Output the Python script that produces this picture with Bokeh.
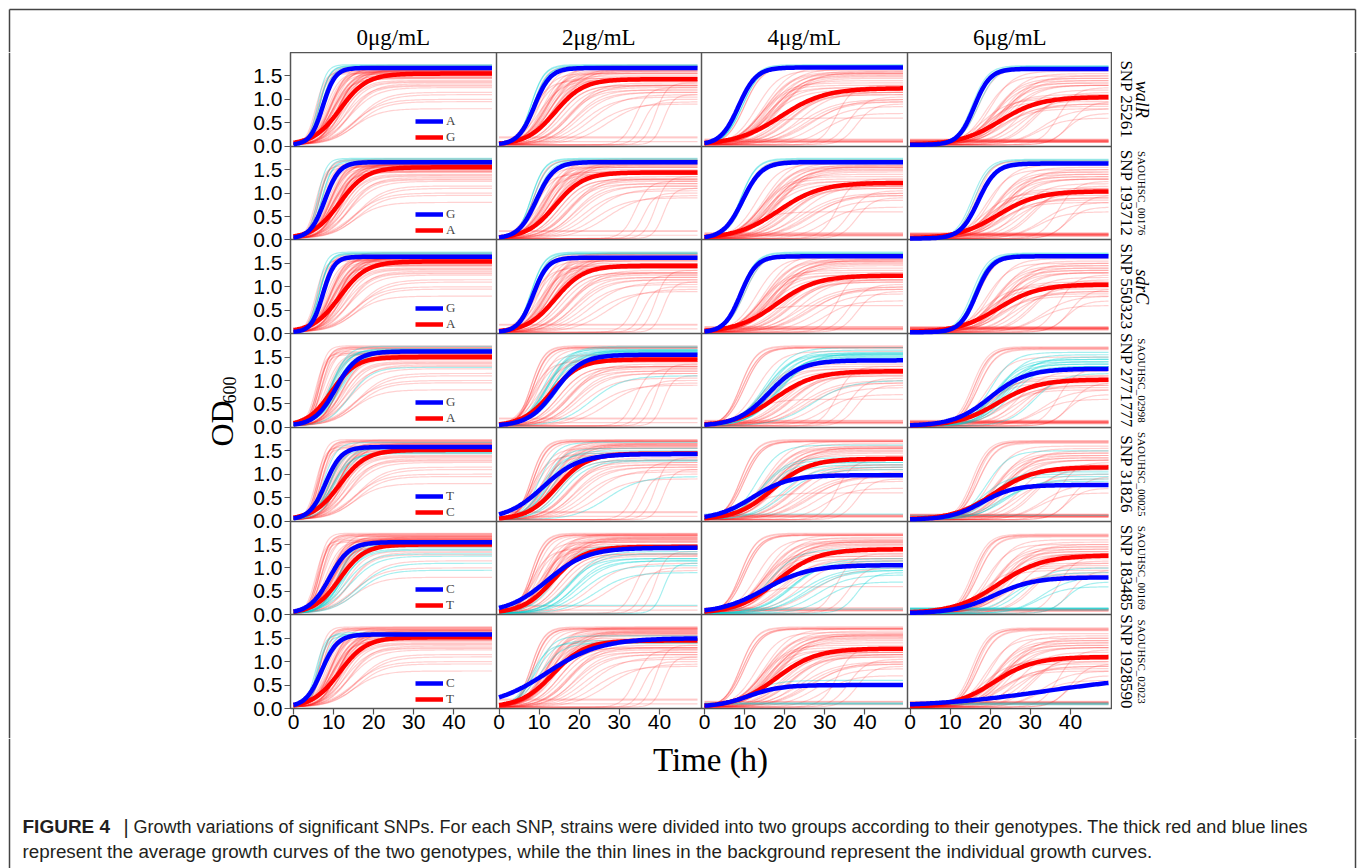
import numpy as np
from bokeh.plotting import figure
from bokeh.layouts import column, row
from bokeh.models import Range1d, FixedTicker, CustomJSTickFormatter, Legend, LegendItem
from bokeh.core.properties import value
from bokeh.embed import file_html
from bokeh.resources import INLINE

# ---------------- data ----------------
CONCENTRATIONS = ["0μg/mL", "2μg/mL", "4μg/mL", "6μg/mL"]
SNP_LABELS = ["SNP 25261", "SNP 193712", "SNP 550323", "SNP 2771777",
              "SNP 31826", "SNP 183485", "SNP 1928590"]
GENE_LABELS = ["walR", "SAOUHSC_00176", "sdrC", "SAOUHSC_02998",
               "SAOUHSC_00025", "SAOUHSC_00169", "SAOUHSC_02023"]
GENE_ITALIC = [True, False, True, False, False, False, False]
BLUE_ALLELE = ["A", "G", "G", "G", "T", "C", "C"]
RED_ALLELE = ["G", "A", "A", "A", "C", "T", "T"]
Y_TICKS = [0.0, 0.5, 1.0, 1.5]
X_TICKS = [0, 10, 20, 30, 40]

# average growth curves (logistic: plateau, midpoint time, rate) per SNP row x concentration
BLUE_MAX = [[1.67, 1.67, 1.68, 1.65], [1.66, 1.66, 1.66, 1.63], [1.64, 1.62, 1.65, 1.65],
            [1.62, 1.55, 1.43, 1.25], [1.58, 1.43, 0.98, 0.77], [1.55, 1.43, 1.06, 0.80],
            [1.58, 1.50, 0.50, 0.72]]
BLUE_MID = [[7.3, 8.8, 8.5, 16.0], [7.8, 9.3, 9.5, 17.0], [7.3, 8.5, 9.0, 16.5],
            [10.5, 14.0, 16.0, 20.0], [8.0, 11.0, 12.0, 18.0], [9.0, 12.0, 15.0, 21.0],
            [7.0, 12.0, 11.0, 34.0]]
BLUE_RATE = [[0.65, 0.50, 0.45, 0.50], [0.55, 0.45, 0.42, 0.45], [0.70, 0.55, 0.50, 0.50],
             [0.38, 0.30, 0.25, 0.22], [0.50, 0.22, 0.22, 0.25], [0.40, 0.20, 0.18, 0.20],
             [0.50, 0.15, 0.25, 0.07]]
RED_MAX = [[1.55, 1.43, 1.24, 1.05], [1.55, 1.44, 1.22, 1.04], [1.54, 1.45, 1.24, 1.05],
           [1.50, 1.45, 1.20, 1.02], [1.52, 1.44, 1.33, 1.15], [1.50, 1.45, 1.40, 1.27],
           [1.52, 1.45, 1.28, 1.10]]
RED_MID = [[11.6, 14.0, 19.0, 22.5], [11.5, 14.0, 18.5, 22.0], [11.5, 14.0, 18.0, 22.0],
           [9.5, 13.0, 17.5, 22.0], [11.5, 14.5, 17.0, 21.0], [11.5, 13.5, 18.0, 22.0],
           [11.5, 13.5, 18.0, 21.0]]
RED_RATE = [[0.30, 0.28, 0.18, 0.20], [0.30, 0.28, 0.19, 0.20], [0.30, 0.28, 0.20, 0.20],
            [0.33, 0.28, 0.20, 0.20], [0.30, 0.27, 0.22, 0.20], [0.32, 0.26, 0.20, 0.18],
            [0.30, 0.25, 0.20, 0.20]]

# individual strain curves (plateau, midpoint, rate) for each concentration
MAX_0UG = [1.72, 1.55, 1.64, 1.38, 1.70, 1.47, 1.60, 1.25, 1.68, 1.52,
           1.66, 1.62, 1.58, 1.10, 1.68, 1.50, 1.62, 1.33, 1.74, 1.45,
           1.57, 1.58, 1.65, 1.40, 1.71, 1.53, 1.60, 1.63, 1.36, 1.59,
           1.48, 0.80, 1.67, 1.28, 1.56, 1.44, 1.61, 1.15, 1.73, 1.51,
           1.00, 1.66, 1.55, 1.54, 1.69, 1.30, 1.60, 1.46, 1.62, 0.95]
MID_0UG = [6.5, 10, 9, 12, 7, 11, 10, 14, 7.5, 12,
           9.5, 6, 8, 16, 10, 11, 11.5, 14, 6, 12,
           9, 5.5, 10.5, 12.5, 6.5, 11, 7, 11, 13, 8.5,
           12, 15, 7, 14, 11, 9.5, 10, 16, 9.5, 11,
           15, 12, 6, 9, 6.5, 13, 11, 10, 9, 16]
RATE_0UG = [0.80, 0.45, 0.50, 0.35, 0.75, 0.45, 0.40, 0.30, 0.60, 0.40,
            0.45, 0.80, 0.55, 0.28, 0.45, 0.50, 0.35, 0.35, 0.90, 0.42,
            0.55, 0.85, 0.40, 0.40, 0.80, 0.48, 0.70, 0.38, 0.38, 0.52,
            0.44, 0.30, 0.75, 0.36, 0.50, 0.42, 0.42, 0.30, 0.50, 0.46,
            0.28, 0.34, 0.80, 0.50, 0.80, 0.33, 0.40, 0.44, 0.45, 0.30]

MAX_2UG = [1.72, 1.40, 1.66, 1.20, 1.70, 1.30, 1.62, 0.20, 1.68, 1.35,
           1.64, 1.55, 1.55, 0.90, 1.70, 1.25, 1.60, 1.00, 1.74, 1.15,
           1.50, 1.45, 1.66, 1.05, 1.71, 1.30, 1.40, 1.60, 1.25, 1.45,
           1.30, 0.10, 1.69, 1.10, 1.48, 0.95, 1.58, 1.35, 1.73, 1.20,
           0.18, 1.64, 1.40, 1.40, 1.70, 1.15, 1.56, 1.28, 1.62, 1.10]
MID_2UG = [8, 13, 11, 19, 8.5, 15, 13, -30, 10, 18,
           12, 9, 11, 24, 12, 17, 14, 36, 8, 19,
           12, 9, 14, 21, 8.5, 15, 10, 13, 34, 11,
           18, -30, 9, 23, 14, 27, 13, 39, 12, 17,
           -30, 15, 8, 12, 8.5, 20, 14, 16, 12, 41]
RATE_2UG = [0.60, 0.35, 0.40, 0.30, 0.55, 0.32, 0.35, 0.50, 0.45, 0.30,
            0.38, 0.45, 0.40, 0.25, 0.35, 0.30, 0.30, 0.70, 0.60, 0.28,
            0.38, 0.40, 0.30, 0.26, 0.55, 0.32, 0.35, 0.34, 0.60, 0.40,
            0.28, 0.50, 0.50, 0.25, 0.32, 0.24, 0.33, 0.70, 0.35, 0.30,
            0.50, 0.30, 0.45, 0.36, 0.60, 0.27, 0.30, 0.30, 0.36, 0.80]

MAX_4UG = [1.72, 1.20, 1.55, 1.00, 1.70, 1.10, 1.50, 0.12, 1.62, 1.20,
           1.58, 0.60, 1.35, 0.70, 1.65, 1.15, 1.48, 0.10, 1.74, 0.95,
           1.25, 0.10, 1.60, 0.85, 1.71, 1.20, 0.12, 1.55, 1.05, 1.30,
           1.15, 0.08, 1.69, 1.00, 1.40, 0.15, 1.52, 1.30, 1.70, 1.10,
           0.14, 1.58, 0.10, 1.25, 1.70, 0.95, 1.45, 1.15, 1.55, 0.90]
MID_4UG = [9, 16, 15, 24, 9.5, 20, 17, -30, 13, 22,
           15, 11, 14, 30, 16, 24, 18, -30, 9, 26,
           15, -30, 17, 28, 9.5, 20, -30, 18, 36, 14,
           22, -30, 10, 27, 16, -30, 17, 33, 15, 21,
           -30, 19, -30, 16, 10, 25, 18, 19, 16, 38]
RATE_4UG = [0.50, 0.25, 0.30, 0.22, 0.45, 0.25, 0.28, 0.50, 0.35, 0.25,
            0.30, 0.30, 0.30, 0.30, 0.28, 0.25, 0.28, 0.50, 0.50, 0.22,
            0.30, 0.50, 0.27, 0.25, 0.45, 0.26, 0.50, 0.28, 0.45, 0.30,
            0.25, 0.50, 0.45, 0.22, 0.28, 0.50, 0.27, 0.50, 0.30, 0.25,
            0.50, 0.26, 0.50, 0.28, 0.45, 0.24, 0.27, 0.26, 0.28, 0.50]

MAX_6UG = [1.70, 0.90, 1.35, 0.13, 1.68, 0.80, 1.30, 0.10, 1.50, 0.15,
           1.40, 0.12, 1.00, 0.60, 1.55, 1.10, 1.30, 0.10, 1.72, 0.12,
           0.95, 0.10, 1.45, 0.80, 1.70, 1.20, 0.08, 1.40, 0.95, 1.05,
           1.00, 0.08, 1.66, 1.15, 0.14, 0.12, 1.35, 1.25, 1.60, 0.90,
           0.11, 1.50, 0.10, 1.10, 1.68, 0.13, 1.30, 0.85, 1.45, 0.70]
MID_6UG = [16, 24, 21, -30, 17, 22, 22, -30, 19, -30,
           21, -30, 18, 32, 22, 30, 24, -30, 15.5, -30,
           19, -30, 23, 33, 16.5, 27, -30, 24, 40, 20,
           28, -30, 17, 31, -30, -30, 23, 37, 20, 26,
           -30, 24, -30, 21, 16, -30, 25, 23, 21, 39]
RATE_6UG = [0.50, 0.25, 0.28, 0.50, 0.45, 0.25, 0.27, 0.50, 0.35, 0.50,
            0.30, 0.50, 0.30, 0.30, 0.30, 0.30, 0.28, 0.50, 0.50, 0.50,
            0.30, 0.50, 0.30, 0.28, 0.50, 0.30, 0.50, 0.30, 0.45, 0.30,
            0.28, 0.50, 0.45, 0.30, 0.50, 0.50, 0.30, 0.45, 0.35, 0.26,
            0.50, 0.28, 0.50, 0.30, 0.50, 0.50, 0.28, 0.28, 0.30, 0.45]

# strains carrying the "blue" genotype for each SNP (others carry the "red" genotype)
MINOR_STRAINS = [
    [0, 4, 18, 24],
    [0, 4, 18, 32],
    [0, 18, 24, 44],
    [2, 6, 10, 14, 16, 22, 27, 33, 36, 38, 41, 46, 48],
    [1, 5, 8, 12, 20, 29, 35, 43, 47],
    [3, 7, 9, 13, 19, 23, 30, 34, 39, 45, 49],
    [11, 21, 26, 42],
]

STRAIN_MAX = [MAX_0UG, MAX_2UG, MAX_4UG, MAX_6UG]
STRAIN_MID = [MID_0UG, MID_2UG, MID_4UG, MID_6UG]
STRAIN_RATE = [RATE_0UG, RATE_2UG, RATE_4UG, RATE_6UG]

# ---------------- layout constants (page pixels) ----------------
SERIF = "Liberation Serif"
SANS = "Liberation Sans"
PAGE_L, PAGE_R = 0, 1358
PAGE_T, PAGE_B = 0, 868
W = PAGE_R - PAGE_L
HEADER_H = 52
LEFT_W = 250
AXIS_W = 40
GRID_W = 822
GRID_H = 656
XAXIS_H = 30
RIGHT_W = W - LEFT_W - AXIS_W - GRID_W
MID_H = GRID_H + XAXIS_H
BOTTOM_H = (PAGE_B - PAGE_T) - HEADER_H - MID_H
GRID_X0 = PAGE_L + LEFT_W + AXIS_W        # page x of panel grid left
GRID_Y0 = PAGE_T + HEADER_H               # page y of panel grid top
NROW, NCOL = 7, 4
COL_W = GRID_W / NCOL
ROW_H = GRID_H / NROW
X_SRC = (-0.75, 50.5)
Y_SRC = (0.0, 2.0)
FRAME_COLOR = "#444444"
FRAME_X0, FRAME_X1, FRAME_Y0 = 9, 1355, 9

T = np.linspace(0.0, 49.5, 110)


def growth(a, m, r):
    return 0.03 + (a - 0.03) / (1.0 + np.exp(-r * (T - m)))


def deco_fig(width, height, x0, x1, y0, y1):
    f = figure(width=width, height=height, x_range=Range1d(x0, x1), y_range=Range1d(y1, y0),
               x_axis_type=None, y_axis_type=None, min_border=0, toolbar_location=None,
               output_backend="svg", outline_line_color=None, frame_align=False)
    f.background_fill_color = "white"
    f.border_fill_color = "white"
    return f


# ---------------- header ----------------
hdr = deco_fig(W, HEADER_H, PAGE_L, PAGE_R, PAGE_T, PAGE_T + HEADER_H)
hdr.segment(x0=[FRAME_X0, FRAME_X0, FRAME_X1], y0=[FRAME_Y0, FRAME_Y0, FRAME_Y0],
            x1=[FRAME_X1, FRAME_X0, FRAME_X1], y1=[FRAME_Y0, PAGE_T + HEADER_H, PAGE_T + HEADER_H],
            line_color=FRAME_COLOR, line_width=1.5)
hdr.text(x=[GRID_X0 + COL_W * (c + 0.5) for c in range(NCOL)], y=[36.5] * NCOL,
         text=CONCENTRATIONS, text_align="center", text_baseline="middle",
         text_font=value(SERIF), text_font_size=value("23px"), text_color="black")

# ---------------- left (y label) ----------------
lft = deco_fig(LEFT_W, MID_H, PAGE_L, PAGE_L + LEFT_W, GRID_Y0, GRID_Y0 + MID_H)
lft.segment(x0=[FRAME_X0], y0=[GRID_Y0], x1=[FRAME_X0], y1=[GRID_Y0 + MID_H],
            line_color=FRAME_COLOR, line_width=1.5)
lft.text(x=[221], y=[446], text=["OD"], angle=np.pi / 2, text_align="left",
         text_baseline="middle", text_font=value(SERIF), text_font_size=value("32px"),
         text_color="black")
lft.text(x=[229], y=[403], text=["600"], angle=np.pi / 2, text_align="left",
         text_baseline="middle", text_font=value(SERIF), text_font_size=value("18px"),
         text_color="black")

# ---------------- panel grid ----------------
grid = figure(width=AXIS_W + GRID_W, height=MID_H, x_range=Range1d(0, NCOL), y_range=Range1d(0, NROW),
              min_border_left=AXIS_W, min_border_bottom=XAXIS_H, min_border_top=0, min_border_right=0,
              toolbar_location=None, output_backend="svg", frame_align=False)
grid.background_fill_color = "white"
grid.border_fill_color = "white"
grid.outline_line_color = "#555555"
grid.outline_line_width = 1.5
grid.xgrid.ticker = FixedTicker(ticks=list(range(1, NCOL)))
grid.ygrid.ticker = FixedTicker(ticks=list(range(1, NROW)))
grid.grid.grid_line_color = "#555555"
grid.grid.grid_line_width = 1.5
grid.grid.grid_line_alpha = 1.0

xspan = X_SRC[1] - X_SRC[0]
yspan = Y_SRC[1] - Y_SRC[0]
grid.xaxis.ticker = FixedTicker(ticks=[c + (t - X_SRC[0]) / xspan for c in range(NCOL) for t in X_TICKS])
grid.yaxis.ticker = FixedTicker(ticks=[(NROW - 1 - r) + (v - Y_SRC[0]) / yspan
                                       for r in range(NROW) for v in Y_TICKS])
grid.xaxis.formatter = CustomJSTickFormatter(
    args=dict(span=xspan, x0=X_SRC[0]),
    code="const f = tick - Math.floor(tick + 1e-9); return String(Math.round(f * span + x0));")
grid.yaxis.formatter = CustomJSTickFormatter(
    args=dict(span=yspan, y0=Y_SRC[0]),
    code="const f = tick - Math.floor(tick + 1e-9); return (f * span + y0).toFixed(1);")
for ax in (grid.xaxis, grid.yaxis):
    ax.axis_line_color = None
    ax.major_tick_line_color = "#555555"
    ax.major_tick_line_width = 1.2
    ax.major_tick_out = 6
    ax.major_tick_in = 0
    ax.minor_tick_line_color = None
    ax.major_label_text_font = SANS
    ax.major_label_text_font_size = "21px"
    ax.major_label_text_color = "black"
grid.xaxis.major_label_standoff = 0
grid.yaxis.major_label_standoff = 2

for r in range(NROW):
    minor = set(MINOR_STRAINS[r])
    for c in range(NCOL):
        sub = grid.subplot(x_source=Range1d(*X_SRC), y_source=Range1d(*Y_SRC),
                           x_target=Range1d(c, c + 1), y_target=Range1d(NROW - 1 - r, NROW - r))
        red_ys, cyan_ys = [], []
        for i in range(len(STRAIN_MAX[c])):
            yv = growth(STRAIN_MAX[c][i], STRAIN_MID[c][i], STRAIN_RATE[c][i])
            (cyan_ys if i in minor else red_ys).append(yv)
        sub.multi_line(xs=[T] * len(red_ys), ys=red_ys, line_color="#ff1a1a", line_alpha=0.2, line_width=1.2)
        sub.multi_line(xs=[T] * len(cyan_ys), ys=cyan_ys, line_color="#00d0d0", line_alpha=0.35, line_width=1.2)
        rr = sub.line(T, growth(RED_MAX[r][c], RED_MID[r][c], RED_RATE[r][c]),
                      line_color="#ff0000", line_width=4.5)
        br = sub.line(T, growth(BLUE_MAX[r][c], BLUE_MID[r][c], BLUE_RATE[r][c]),
                      line_color="#0000ff", line_width=4.5)
        if c == 0:
            leg = Legend(items=[LegendItem(label=BLUE_ALLELE[r], renderers=[br]),
                                LegendItem(label=RED_ALLELE[r], renderers=[rr])],
                         location=(125, (NROW - 1 - r) * ROW_H + 1),
                         glyph_width=28, glyph_height=16, label_height=16, label_standoff=3,
                         spacing=0, padding=0, margin=0,
                         label_text_font=SERIF, label_text_font_size="13px",
                         border_line_alpha=0, background_fill_alpha=0)
            grid.add_layout(leg)

# ---------------- right (row strips) ----------------
rgt = deco_fig(RIGHT_W, MID_H, PAGE_R - RIGHT_W, PAGE_R, GRID_Y0, GRID_Y0 + MID_H)
rgt.segment(x0=[FRAME_X1], y0=[GRID_Y0], x1=[FRAME_X1], y1=[GRID_Y0 + MID_H],
            line_color=FRAME_COLOR, line_width=1.5)
row_cy = [GRID_Y0 + ROW_H * (r + 0.5) for r in range(NROW)]
rgt.text(x=[GRID_X0 + GRID_W + 14] * NROW, y=row_cy, text=SNP_LABELS, angle=-np.pi / 2,
         text_align="center", text_baseline="middle", text_font=value(SERIF),
         text_font_size=value("17px"), text_color="black")
it_idx = [r for r in range(NROW) if GENE_ITALIC[r]]
sm_idx = [r for r in range(NROW) if not GENE_ITALIC[r]]
rgt.text(x=[GRID_X0 + GRID_W + 29] * len(it_idx), y=[row_cy[r] for r in it_idx],
         text=[GENE_LABELS[r] for r in it_idx], angle=-np.pi / 2,
         text_align="center", text_baseline="middle", text_font=value(SERIF),
         text_font_style="italic", text_font_size=value("18px"), text_color="black")
rgt.text(x=[GRID_X0 + GRID_W + 29] * len(sm_idx), y=[row_cy[r] for r in sm_idx],
         text=[GENE_LABELS[r] for r in sm_idx], angle=-np.pi / 2,
         text_align="center", text_baseline="middle", text_font=value(SERIF),
         text_font_size=value("11px"), text_color="black")

# ---------------- bottom (x label + caption) ----------------
by0 = GRID_Y0 + MID_H
bot = deco_fig(W, BOTTOM_H, PAGE_L, PAGE_R, by0, PAGE_B)
bot.segment(x0=[FRAME_X0, FRAME_X1], y0=[by0, by0], x1=[FRAME_X0, FRAME_X1], y1=[PAGE_B, PAGE_B],
            line_color=FRAME_COLOR, line_width=1.5)
bot.text(x=[GRID_X0 + GRID_W / 2 + 9], y=[759], text=["Time (h)"], text_align="center",
         text_baseline="middle", text_font=value(SERIF), text_font_size=value("33px"),
         text_color="black")
CAPTION_BOLD = "FIGURE 4"
CAPTION_BAR = "|"
CAPTION_1 = ("Growth variations of significant SNPs. For each SNP, strains were divided into two groups "
             "according to their genotypes. The thick red and blue lines")
CAPTION_2 = ("represent the average growth curves of the two genotypes, while the thin lines in the "
             "background represent the individual growth curves.")
CAP_COLOR = "#231f20"
bot.text(x=[22], y=[826], text=[CAPTION_BOLD], text_align="left", text_baseline="middle",
         text_font=value(SANS), text_font_style="bold", text_font_size=value("19px"), text_color=CAP_COLOR)
bot.text(x=[123], y=[826], text=[CAPTION_BAR], text_align="left", text_baseline="middle",
         text_font=value(SANS), text_font_size=value("20px"), text_color=CAP_COLOR)
bot.text(x=[133], y=[826], text=[CAPTION_1], text_align="left", text_baseline="middle",
         text_font=value(SANS), text_font_size=value("18px"), text_color=CAP_COLOR)
bot.text(x=[22], y=[851], text=[CAPTION_2], text_align="left", text_baseline="middle",
         text_font=value(SANS), text_font_size=value("18.8px"), text_color=CAP_COLOR)

layout = column(hdr, row(lft, grid, rgt), bot)
open("out.html", "w").write(file_html(layout, INLINE))
